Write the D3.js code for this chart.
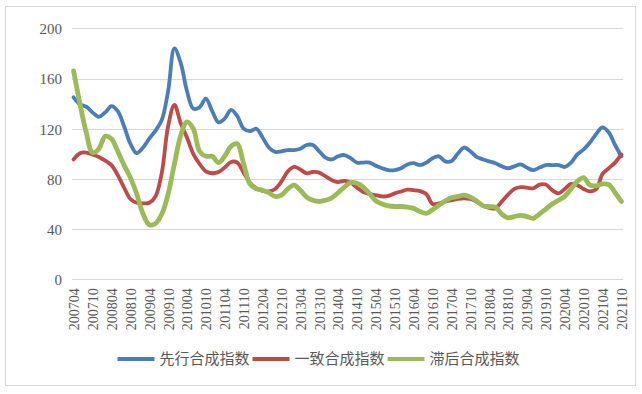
<!DOCTYPE html>
<html>
<head>
<meta charset="utf-8">
<script src="https://cdn.jsdelivr.net/npm/d3@7"></script>
<style>
  body { margin: 0; background: #fff; }
  svg { display: block; }
  .grid line { stroke: #d9d9d9; stroke-width: 1; }
  .legend text { font-family: "Noto Sans CJK SC", sans-serif; font-size: 15px; fill: #595959; }
</style>
</head>
<body>
<svg width="642" height="394"></svg>
<script>
// x axis labels, every 6 months
let tickLabels = ["200704", "200710", "200804", "200810", "200904", "200910", "201004", "201010",
  "201104", "201110", "201204", "201210", "201304", "201310", "201404", "201410", "201504",
  "201510", "201604", "201610", "201704", "201710", "201804", "201810", "201904", "201910",
  "202004", "202010", "202104", "202110"];

let seriesNames = ["先行合成指数", "一致合成指数", "滞后合成指数"];
let seriesColors = ["#4a7ebb", "#be4b48", "#9bbb59"];

// values read every 2 months from 200704 to 202110
let leading = [145, 139.5, 137.5, 133, 129.5, 133, 138, 134, 122, 108, 100.5, 105, 112, 118.5, 127,
  150, 184, 172, 150, 136, 137, 144, 134, 125, 128, 135, 130, 120, 118, 120, 113, 105, 101.5, 102,
  103, 103, 104, 107,
  107, 102, 97, 95.5, 98, 99, 96.5, 93, 93, 93, 90.5, 88.5, 87, 87, 88.5, 91.5, 92.5, 91, 93, 96.5,
  98, 94, 94, 100, 105, 102, 97.5, 95.5, 94, 92.5, 90, 88.5, 90, 91.5, 89, 87, 89, 91, 91, 91, 89.5,
  93, 99.5, 103.5, 109, 116, 121, 117, 107, 98];

let coincident = [95.5, 100.5, 101, 99.5, 97.5, 94.5, 91, 83, 73, 64, 61, 60.5, 61, 66, 85, 122, 139,
  124, 113, 100, 92, 86, 84.5, 85.5, 89, 93.5, 93, 85, 77, 72.5, 70.5, 70, 72, 78, 86, 89.5, 87.5,
  84.5,
  85.5, 85, 82, 79, 77.5, 78.5, 77, 73, 69.5, 68, 67, 66, 66.5, 68.5, 70, 71.5, 71, 70.3, 68, 60,
  60.5, 62, 63, 64, 64.5, 64, 62, 58.5, 57, 56.5, 62, 67.5, 72, 73.5, 73, 72.5, 75.5, 75.5, 71, 68.5,
  72, 76, 75, 72, 70, 72, 84, 88.5, 93, 99.5];

let lagging = [166, 140, 117, 101, 104, 114, 112, 102, 91, 81, 68, 52, 43.5, 44.5, 52, 68, 92, 115,
  125.5, 120, 102, 98, 98, 93, 98, 106, 108, 92, 76, 72, 71, 69, 66, 67, 72, 75, 71, 65.5,
  63, 62, 63, 65, 69, 73.5, 77, 76.5, 73.5, 68, 62.5, 60, 58.5, 58, 58, 57.5, 56.5, 54, 52.5, 55.5,
  59, 62.5, 65, 66, 67, 65.5, 62.5, 58.5, 58, 57.5, 52, 49, 50, 51, 50, 48.6, 52, 56, 60, 63, 66, 72,
  78, 81, 75, 74.5, 76, 75.5, 69, 62];

let yTicks = [0, 40, 80, 120, 160, 200];

let parseMonth = d3.timeParse("%Y%m");
let startDate = parseMonth(tickLabels[0]);
let endDate = parseMonth(tickLabels[tickLabels.length - 1]);
let sampleDates = leading.map((v, k) => d3.timeMonth.offset(startDate, 2 * k));

let svg = d3.select("svg");

// chart border
svg.append("rect")
  .attr("x", 5.5).attr("y", 6.5)
  .attr("width", 630).attr("height", 379)
  .attr("fill", "#fff")
  .attr("stroke", "#d9d9d9");

let x = d3.scaleTime()
  .domain([startDate, endDate])
  .range([73.6, 621.4]);

let y = d3.scaleLinear()
  .domain([0, 200])
  .range([279.3, 28.3]);

// horizontal gridlines
svg.append("g")
  .attr("class", "grid")
  .selectAll("line")
  .data(yTicks)
  .enter()
  .append("line")
  .attr("x1", 72).attr("x2", 623)
  .attr("y1", d => Math.round(y(d)) + 0.5)
  .attr("y2", d => Math.round(y(d)) + 0.5);

let serif = '"Times New Roman", "Liberation Serif", "DejaVu Serif", serif';

// y axis labels
let yAxis = svg.append("g")
  .attr("font-family", serif)
  .attr("transform", "translate(70,0.5)")
  .call(d3.axisLeft(y).tickValues(yTicks).tickSize(0).tickPadding(8));
yAxis.attr("font-family", serif).attr("font-size", 15);
yAxis.select(".domain").remove();
yAxis.selectAll("text").attr("fill", "#595959");

// x axis labels (rotated)
let xAxis = svg.append("g")
  .attr("transform", `translate(0,${y(0)})`)
  .call(d3.axisBottom(x)
    .tickValues(tickLabels.map(parseMonth))
    .tickFormat(d3.timeFormat("%Y%m"))
    .tickSize(0));
xAxis.attr("font-family", serif).attr("font-size", 14);
xAxis.select(".domain").remove();
xAxis.selectAll("text")
  .attr("fill", "#595959")
  .attr("transform", "rotate(-90)")
  .attr("text-anchor", "end")
  .attr("x", -9)
  .attr("y", 0)
  .attr("dy", "0.35em");

// lines
let line = d3.line()
  .x((d, i) => x(sampleDates[i]))
  .y(d => y(d))
  .curve(d3.curveCatmullRom.alpha(0.5));

let allSeries = [leading, coincident, lagging];
let widths = [3.8, 3.8, 4.8];

svg.append("g")
  .selectAll("path")
  .data(allSeries)
  .enter()
  .append("path")
  .attr("d", line)
  .attr("fill", "none")
  .attr("stroke", (d, i) => seriesColors[i])
  .attr("stroke-width", (d, i) => widths[i])
  .attr("stroke-linejoin", "round")
  .attr("stroke-linecap", "round");

// legend
let legend = svg.append("g")
  .attr("class", "legend");

let lx = 0;
let items = legend.selectAll("g")
  .data(seriesNames)
  .enter()
  .append("g");

items.each(function (name, i) {
  let item = d3.select(this);
  item.append("line")
    .attr("x1", 0).attr("x2", 37)
    .attr("stroke", seriesColors[i])
    .attr("stroke-width", 4);
  let t = item.append("text")
    .attr("x", 42)
    .attr("dy", "0.35em")
    .text(name);
  let w = 42 + t.node().getComputedTextLength() + 3;
  item.attr("transform", `translate(${lx},0)`);
  lx += w;
});

legend.attr("transform", `translate(${320 - lx / 2},359)`);
</script>
</body>
</html>
